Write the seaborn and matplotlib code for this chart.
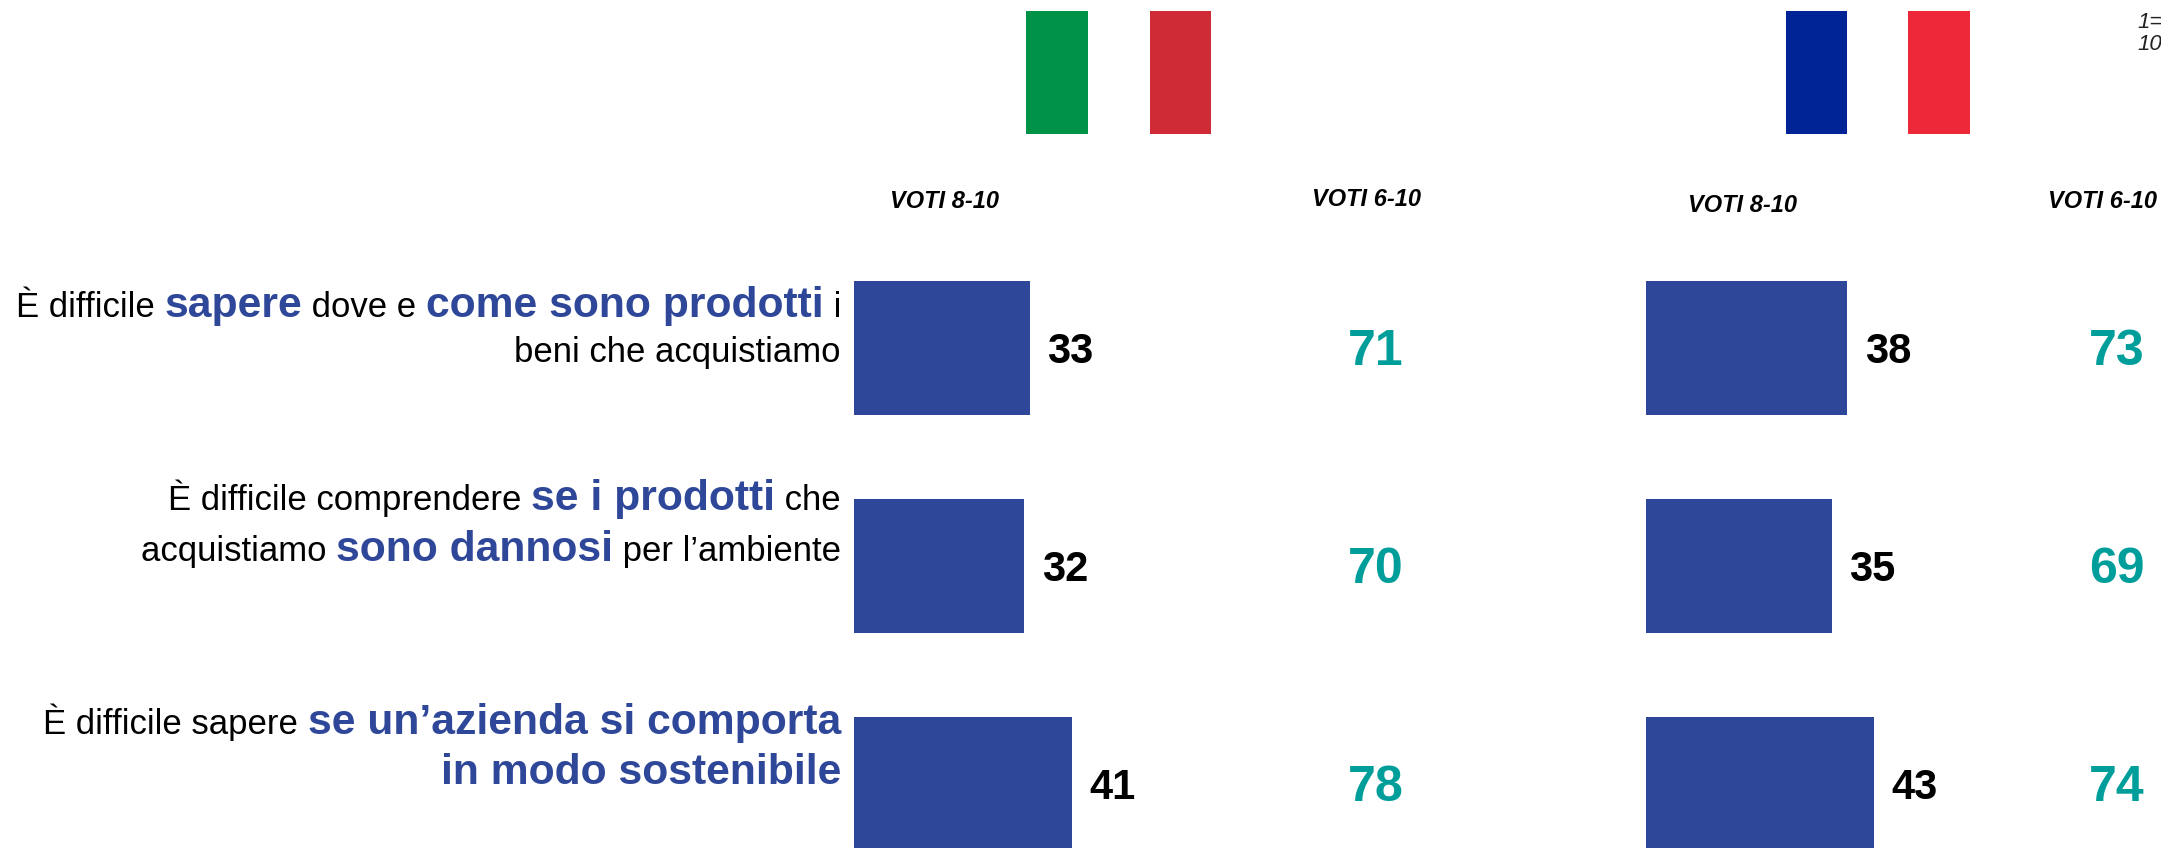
import matplotlib
matplotlib.use("Agg")
import matplotlib.pyplot as plt
from matplotlib.patches import Rectangle
from matplotlib.transforms import blended_transform_factory
import pandas as pd
import seaborn as sns

W, H = 2161, 848
sns.set_theme(style="white")
plt.rcParams["font.family"] = ["Liberation Sans", "DejaVu Sans"]

BLUE = "#2F4799"
TEAL = "#009E9A"

rows = ["sapere", "danno", "azienda"]
it_8_10 = [33, 32, 41]
it_6_10 = [71, 70, 78]
fr_8_10 = [38, 35, 43]
fr_6_10 = [73, 69, 74]
head_8_10 = "VOTI 8-10"
head_6_10 = "VOTI 6-10"
scale_notes = ["1=", "10="]

# each line: list of (text, emphasised)
label_lines = [
    [("È difficile ", False), ("sapere", True), (" dove e ", False), ("come sono prodotti", True), (" i", False)],
    [("beni che acquistiamo", False)],
    [("È difficile comprendere ", False), ("se i prodotti", True), (" che", False)],
    [("acquistiamo ", False), ("sono dannosi", True), (" per l’ambiente", False)],
    [("È difficile sapere ", False), ("se un’azienda si comporta", True)],
    [("in modo sostenibile", True)],
]
label_baselines = [317, 362, 510, 561, 734, 784]

fig = plt.figure(figsize=(W / 100, H / 100), dpi=100, facecolor="white")


def fx(px):
    return px / W


def fy(py):
    return 1 - py / H


def panel(values, x0, x1, px_per_unit, col_px, col_values):
    ax = fig.add_axes([fx(x0), 0, (x1 - x0) / W, fy(239)])
    ax.patch.set_alpha(0)
    df = pd.DataFrame({"row": rows, "value": values})
    sns.barplot(data=df, y="row", x="value", color=BLUE, saturation=1, width=134 / 218,
                orient="h", ax=ax, linewidth=0)
    ax.set_xlim(0, (x1 - x0) / px_per_unit)
    ax.set_ylim((848 - 348) / 218, -0.5)
    ax.axis("off")
    tr = blended_transform_factory(fig.transFigure, ax.transData)
    for i, v in enumerate(values):
        ax.annotate(str(v), (v, i), xytext=(12.5, -3), textcoords="offset points",
                    ha="left", va="center", fontsize=30, fontweight="bold", color="black")
    for i, v in enumerate(col_values):
        ax.annotate(str(v), (fx(col_px), i), xycoords=tr, xytext=(0, -3), textcoords="offset points",
                    ha="center", va="center", fontsize=36, fontweight="bold", color=TEAL)
    return ax


panel(it_8_10, 854, 1640, 5.32, 1376, it_6_10)
panel(fr_8_10, 1646, W, 5.3, 2117, fr_6_10)

# flags
for x0, x1, c in [(1026, 1088, "#009246"), (1150, 1211, "#CE2B37"),
                  (1786, 1847, "#002395"), (1908, 1970, "#ED2939")]:
    fig.add_artist(Rectangle((fx(x0), fy(134)), (x1 - x0) / W, 123 / H,
                             transform=fig.transFigure, facecolor=c, edgecolor="none"))

# column headers
for txt, x, y in [(head_8_10, 944, 202), (head_6_10, 1367, 200),
                  (head_8_10, 1742, 205), (head_6_10, 2102, 202)]:
    fig.text(fx(x), fy(y), txt, ha="center", va="center", fontsize=17,
             fontstyle="italic", fontweight="bold", color="black")

# scale note, cut by the right edge as in the original
for txt, y in zip(scale_notes, [23, 44]):
    fig.text(fx(2137), fy(y), txt, ha="left", va="center", fontsize=16,
             fontstyle="italic", color="#222222")

# rich right-aligned labels
renderer = fig.canvas.get_renderer()
for line, base in zip(label_lines, label_baselines):
    x = 841
    for txt, emph in reversed(line):
        t = fig.text(fx(x), fy(base), txt.replace(" ", "\u00a0"), ha="right", va="baseline",
                     fontsize=30.7 if emph else 25, fontweight="bold" if emph else "normal",
                     color=BLUE if emph else "black")
        x -= t.get_window_extent(renderer).width

fig.savefig("out.png", dpi=100, facecolor="white")
